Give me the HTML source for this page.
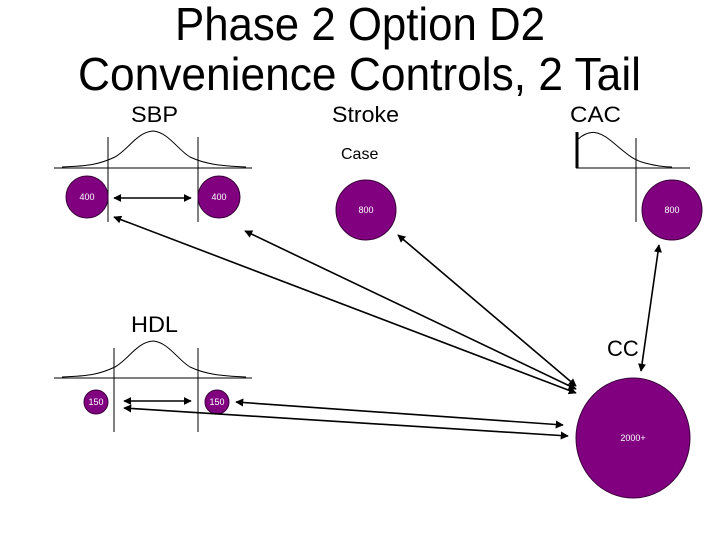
<!DOCTYPE html>
<html><head><meta charset="utf-8"><style>html,body{margin:0;padding:0;background:#fff}svg{display:block}</style></head>
<body>
<svg width="720" height="540" viewBox="0 0 720 540" xmlns="http://www.w3.org/2000/svg" font-family="Liberation Sans, Arial, sans-serif">
<defs>
<marker id="a" viewBox="0 0 10 10" refX="9" refY="5" markerWidth="5" markerHeight="5" orient="auto-start-reverse"><path d="M0,0L10,5L0,10z" fill="#000"/></marker>
</defs>
<text x="175" y="40" font-size="46" textLength="370" lengthAdjust="spacingAndGlyphs">Phase 2 Option D2</text>
<text x="78" y="90" font-size="46" textLength="563" lengthAdjust="spacingAndGlyphs">Convenience Controls, 2 Tail</text>
<text x="131" y="122" font-size="22" textLength="47" lengthAdjust="spacingAndGlyphs">SBP</text>
<text x="332" y="122" font-size="22" textLength="67" lengthAdjust="spacingAndGlyphs">Stroke</text>
<text x="570" y="122" font-size="22" textLength="51" lengthAdjust="spacingAndGlyphs">CAC</text>
<text x="341" y="159" font-size="16">Case</text>
<text x="131" y="332" font-size="22" textLength="47" lengthAdjust="spacingAndGlyphs">HDL</text>
<text x="607" y="356" font-size="22">CC</text>
<g fill="none" stroke="#000" stroke-width="1">
<path d="M54,168H252"/><path d="M108,137V222M198,137V222"/>
<path d="M62,167C90,166 100,164 115,157C128,150 137,132 153,131C168,132 178,150 190,157C205,164 220,166 246,167"/>
<path d="M54,378H252"/><path d="M114,348V432M198,348V432"/>
<path d="M62,377C90,376 100,374 115,367C128,360 137,342 153,341C168,342 178,360 190,367C205,374 220,376 246,377"/>
<path d="M576,168H690"/><path d="M636,138V222"/>
<path d="M577,140C590,128 600,132 610,140C625,152 632,160 645,163C660,167 670,167 672,167"/>
</g>
<path d="M577,132V168" stroke="#000" stroke-width="3"/>
<g fill="#800080" stroke="#3a003a" stroke-width="1">
<circle cx="87" cy="197" r="21"/><circle cx="219" cy="197" r="21"/>
<circle cx="366" cy="210" r="30"/><circle cx="672" cy="210" r="30"/>
<circle cx="96" cy="402" r="12"/><circle cx="217" cy="402" r="12"/>
<ellipse cx="633" cy="438" rx="57" ry="60"/>
</g>
<g fill="#fff" font-size="9" text-anchor="middle">
<text x="87" y="200">400</text><text x="219" y="200">400</text>
<text x="366" y="213">800</text><text x="672" y="213">800</text>
<text x="96" y="405">150</text><text x="217" y="405">150</text>
<text x="633" y="441">2000+</text>
</g>
<g stroke="#000" stroke-width="1.6" marker-start="url(#a)" marker-end="url(#a)">
<line x1="114" y1="198" x2="191" y2="198"/>
<line x1="114" y1="217" x2="576" y2="393"/>
<line x1="245" y1="231" x2="576" y2="389"/>
<line x1="398" y1="235" x2="576" y2="386"/>
<line x1="659" y1="245" x2="641" y2="371"/>
<line x1="124" y1="401" x2="191" y2="401"/>
<line x1="236" y1="402" x2="563" y2="425"/>
<line x1="124" y1="408" x2="568" y2="436"/>
</g>
</svg>
</body></html>
